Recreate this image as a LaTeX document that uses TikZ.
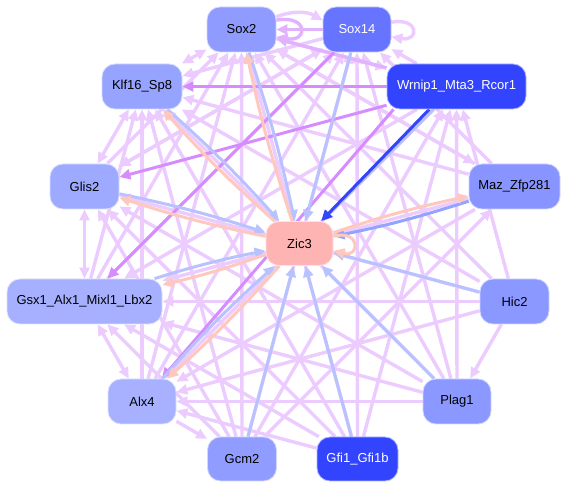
\documentclass[tikz,border=0pt]{standalone}
\usepackage{fontspec}
\setmainfont{Liberation Sans}
\usetikzlibrary{arrows.meta}
\pgfdeclarelayer{bg}
\pgfsetlayers{bg,main}
\definecolor{lp}{HTML}{ECCBFF}
\definecolor{mp}{HTML}{E2B2FF}
\definecolor{dp}{HTML}{D68CFF}
\definecolor{bl}{HTML}{B8C2FF}
\definecolor{bltwo}{HTML}{93A4FF}
\definecolor{sal}{HTML}{FFC8BE}
\definecolor{db}{HTML}{3344FF}
\definecolor{S2c}{HTML}{8F9BFF}
\definecolor{S14c}{HTML}{6674FF}
\definecolor{Wc}{HTML}{3344FF}
\definecolor{Kc}{HTML}{96A3FF}
\definecolor{GLc}{HTML}{9EAAFF}
\definecolor{GSc}{HTML}{A6B0FF}
\definecolor{Ac}{HTML}{A8B1FF}
\definecolor{GCc}{HTML}{909CFF}
\definecolor{GFc}{HTML}{3344FF}
\definecolor{Pc}{HTML}{8B98FF}
\definecolor{Hc}{HTML}{8B98FF}
\definecolor{Mc}{HTML}{8894FF}
\definecolor{Zc}{HTML}{FFB4B4}
\tikzset{
  box/.style={rounded corners=13pt, minimum height=45pt, inner sep=0pt,
    font=\fontsize{13}{15}\selectfont, draw=white!60!#1, line width=0.8pt, fill=#1},
  ed/.style={line width=3.4pt, -{Triangle[length=11pt,width=10pt]}},
  dd/.style={line width=3.4pt, {Triangle[length=11pt,width=10pt]}-{Triangle[length=11pt,width=10pt]}},
  L/.style={ed, draw=lp, color=lp},
  LL/.style={dd, draw=lp, color=lp},
  M/.style={ed, draw=mp, color=mp},
  D/.style={ed, line width=3pt, draw=dp, color=dp},
  B/.style={ed, line width=3pt, draw=bl, color=bl},
  S/.style={ed, line width=3pt, draw=sal, color=sal},
}
\begin{document}
\begin{tikzpicture}[x=1pt,y=1pt]
\useasboundingbox (0,0) rectangle (567,489);
\node[box=S2c, minimum width=69pt] (S2) at (241.5,459.5) {Sox2};
\node[box=S14c, minimum width=68pt, text=white] (S14) at (357,459.5) {Sox14};
\node[box=Kc, minimum width=80pt] (K) at (142,402.5) {Klf16\_Sp8};
\node[box=Wc, minimum width=139pt, text=white] (W) at (456.5,402.5) {Wrnip1\_Mta3\_Rcor1};
\node[box=GLc, minimum width=69pt] (GL) at (84.5,302.5) {Glis2};
\node[box=Mc, minimum width=91pt] (M) at (514.5,302.5) {Maz\_Zfp281};
\node[box=Zc, minimum width=67pt, minimum height=44pt] (Z) at (299.5,245.5) {Zic3};
\node[box=GSc, minimum width=155pt] (GS) at (84.5,187.5) {Gsx1\_Alx1\_Mixl1\_Lbx2};
\node[box=Hc, minimum width=69pt] (H) at (514.5,187.5) {Hic2};
\node[box=Ac, minimum width=68pt] (A) at (142,87.5) {Alx4};
\node[box=Pc, minimum width=68pt] (P) at (457,87.5) {Plag1};
\node[box=GCc, minimum width=69pt, minimum height=44pt] (GC) at (242,30) {Gcm2};
\node[box=GFc, minimum width=81pt, minimum height=44pt, text=white] (GF) at (357.5,30) {Gfi1\_Gfi1b};
\begin{pgfonlayer}{bg}
% light purple edges
\foreach \s/\t in {P/S2,P/K,P/GL,P/GS,P/A,P/W,P/S14,
  H/S2,H/K,H/GL,H/GS,H/A,H/W,H/P,
  GF/S2,GF/K,GF/GL,GF/GS,GF/S14,GF/W,GF/A,
  GC/S2,GC/K,GC/S14,GC/GL,GC/W,GC/M,GC/GS,
  M/S2,M/GS,M/A,M/K,M/S14,
  A/S2,A/K,A/S14,A/GC,
  GS/S2,GS/K,GS/S14,
  GL/S2,GL/S14,
  S14/K,S14/GL,W/S14,W/GS,W/A,S2/W,S2/M}
  \draw[L] (\s) -- (\t);
\draw[LL] (K) -- (S2);
\draw[LL] (K) -- (GL);
\draw[LL] (GL) -- (GS);
\draw[LL] (GS) -- (A);
\draw[L] (S2.20) to[bend left=25] (S14.165);
\draw[L] (S14.12) to[out=10,in=-10,looseness=5] (S14.-12);
% medium / dark purple
\draw[M] (S2.15) to[out=10,in=-10,looseness=5] (S2.-12);
\draw[M] (S14) -- (S2);
\draw[M] (W) -- (S2);
\draw[D] (W) -- (K);
\draw[D] (W) -- (GL);
\draw[D] (S14) -- (GS);
\draw[D] (W.200) -- (A);
% blue into Zic3
\foreach \s in {H,P,GF,GC,W,S14}
  \draw[B] (\s) -- (Z);
\foreach \s in {S2,K,GL,GS,A}
  \draw[B] (\s) to[bend left=3] (Z);
\draw[B, draw=bltwo, color=bltwo] (M) to[bend left=3] (Z);
\draw[B, draw=db, color=db] (W.-140) -- (Z);
% salmon from Zic3
\foreach \t in {S2,K,GL,GS,A,M}
  \draw[S] (Z) to[bend left=3] (\t);
\draw[S] (Z.12) to[out=15,in=-15,looseness=5] (Z.-12);
\end{pgfonlayer}
\end{tikzpicture}
\end{document}
